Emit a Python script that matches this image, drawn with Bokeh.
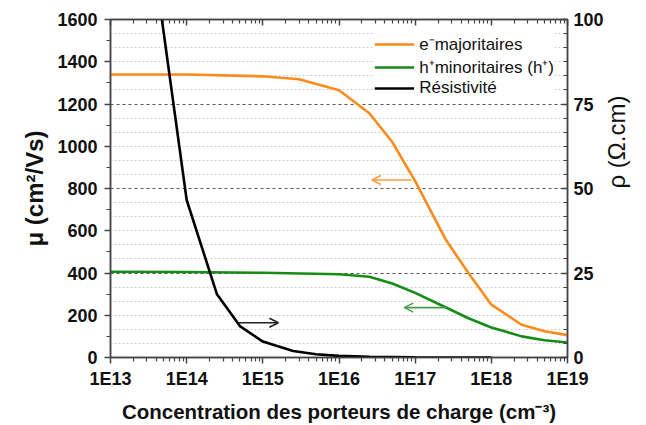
import math
from bokeh.plotting import figure
from bokeh.models import (Range1d, LinearAxis, LogAxis, FixedTicker, SingleIntervalTicker,
                          Arrow, OpenHead, Legend, LegendItem, CustomJSTickFormatter)
from bokeh.embed import file_html
from bokeh.resources import INLINE

# ---- data ----
conc_e = [1e13, 1e14, 1e15, 3e15, 1e16, 2.5e16, 5e16, 1e17, 2.5e17, 5e17, 1e18, 2.5e18, 5e18, 1e19]
mu_e = [1340, 1340, 1331, 1317, 1265, 1156, 1020, 835, 560, 400, 250, 155, 124, 106]

conc_h = [1e13, 1e14, 1e15, 1e16, 2.5e16, 5e16, 1e17, 2.5e17, 5e17, 1e18, 2.5e18, 5e18, 1e19]
mu_h = [406, 405, 401, 394, 382, 350, 306, 238, 186, 142, 100, 82, 71]

conc_r = [4e13, 5e13, 1e14, 2.5e14, 5e14, 1e15, 2.5e15, 5e15, 1e16, 2.5e16, 1e17, 1e18]
rho = [112, 96, 46.6, 18.7, 9.3, 4.7, 1.9, 0.95, 0.48, 0.2, 0.06, 0.01]

x_ticks = [1e13, 1e14, 1e15, 1e16, 1e17, 1e18, 1e19]
x_labels = ["1E13", "1E14", "1E15", "1E16", "1E17", "1E18", "1E19"]

labels = ["e\u207bmajoritaires", "h\u207aminoritaires (h\u207a)", "R\u00e9sistivit\u00e9"]
right_title = "\u03c1 (\u03a9.cm)"

# arrows: (x_start, x_end, y)
arrow_e = (8.9e16, 2.7e16, 840)
arrow_h = (2.6e17, 7.2e16, 236)
arrow_r = (4.8e14, 1.6e15, 10.3)

ORANGE = "#ff8a1c"
GREEN = "#168c16"
FONT = "Liberation Sans"
AX = "#444444"

p = figure(width=646, height=425, x_axis_type="log",
           x_range=Range1d(1e13, 1e19), y_range=Range1d(0, 1600),
           output_backend="svg", toolbar_location=None,
           min_border_left=110, min_border_right=72, min_border_top=19, min_border_bottom=67)
p.extra_y_ranges = {"rho": Range1d(0, 100)}
p.outline_line_color = AX
p.outline_line_width = 1.5
p.background_fill_color = "white"

minor_x = [k * 10 ** d for d in range(13, 19) for k in range(2, 10)]
xt = FixedTicker(ticks=x_ticks, minor_ticks=minor_x)

# bottom axis
xa = p.xaxis[0]
xa.ticker = xt
xa.major_label_overrides = {t: l for t, l in zip(x_ticks, x_labels)}
xa.axis_label = "Concentration des porteurs de charge (cm\u207b\u00b3)"

# left axis
ya = p.yaxis[0]
ya.ticker = SingleIntervalTicker(interval=200, num_minor_ticks=2)
ya.axis_label = "\u03bc (cm\u00b2/Vs)"

for ax in (xa, ya):
    ax.axis_line_color = AX
    ax.axis_line_width = 1.5
    ax.major_tick_line_color = AX
    ax.minor_tick_line_color = AX
    ax.major_tick_line_width = 1.5
    ax.minor_tick_line_width = 1.2
    ax.major_tick_in = 0
    ax.major_tick_out = 6
    ax.minor_tick_in = 0
    ax.minor_tick_out = 4
    ax.major_label_text_font = FONT
    ax.major_label_text_font_style = "bold"
    ax.major_label_text_font_size = "18px"
    ax.major_label_text_color = "#111111"
    ax.axis_label_text_font = FONT
    ax.axis_label_text_font_style = "bold"
    ax.axis_label_text_color = "#111111"

xa.major_label_standoff = 5
xa.axis_label_text_font_size = "20.5px"
xa.axis_label_standoff = 8
ya.major_label_standoff = 7
ya.axis_label_text_font_size = "24px"
ya.axis_label_standoff = 6

# top axis (ticks only)
top = LogAxis(ticker=xt, formatter=CustomJSTickFormatter(code="return ''"),
              axis_line_color=AX, axis_line_width=1.5,
              major_tick_line_color=AX, minor_tick_line_color=AX,
              major_tick_line_width=1.5, minor_tick_line_width=1.2,
              major_tick_in=6, major_tick_out=0, minor_tick_in=4, minor_tick_out=0,
              major_label_text_font_size="1px", major_label_standoff=0)
p.add_layout(top, "above")

# right axis (title reads bottom to top)
ra = LinearAxis(y_range_name="rho", ticker=SingleIntervalTicker(interval=25, num_minor_ticks=6),
                axis_label=right_title,
                axis_line_color=AX, axis_line_width=1.5,
                major_tick_line_color=AX, minor_tick_line_color=AX,
                major_tick_line_width=1.5, minor_tick_line_width=1.2,
                major_tick_in=6, major_tick_out=0, minor_tick_in=4, minor_tick_out=0,
                major_label_text_font=FONT, major_label_text_font_style="bold",
                major_label_text_font_size="18px", major_label_text_color="#111111",
                major_label_standoff=6,
                axis_label_text_font=FONT, axis_label_text_font_style="normal",
                axis_label_text_font_size="24px", axis_label_text_color="#111111",
                axis_label_standoff=10, axis_label_orientation=math.pi / 2)
p.add_layout(ra, "right")

# grid
p.xgrid.grid_line_color = None
g = p.ygrid[0]
g.ticker = FixedTicker(ticks=[400, 800, 1200],
                       minor_ticks=[i * 1600 / 24 for i in range(1, 24) if i % 6])
g.grid_line_color = "#555555"
g.grid_line_dash = "3 3"
g.grid_line_width = 1
g.minor_grid_line_color = "#cfcfcf"
g.minor_grid_line_dash = "2 2"
g.minor_grid_line_width = 1

# curves
r_e = p.line(conc_e, mu_e, line_color=ORANGE, line_width=2.6)
r_h = p.line(conc_h, mu_h, line_color=GREEN, line_width=2.6)
r_r = p.line(conc_r, rho, line_color="black", line_width=2.6, y_range_name="rho")

# arrows
p.add_layout(Arrow(x_start=arrow_e[0], x_end=arrow_e[1], y_start=arrow_e[2], y_end=arrow_e[2],
                   line_color="#ff9a45", line_width=1.6,
                   end=OpenHead(size=9, line_color="#ff9a45", line_width=1.6)))
p.add_layout(Arrow(x_start=arrow_h[0], x_end=arrow_h[1], y_start=arrow_h[2], y_end=arrow_h[2],
                   line_color="#4c9a4c", line_width=1.6,
                   end=OpenHead(size=9, line_color="#4c9a4c", line_width=1.6)))
p.add_layout(Arrow(x_start=arrow_r[0], x_end=arrow_r[1], y_start=arrow_r[2], y_end=arrow_r[2],
                   y_range_name="rho", line_color="#222222", line_width=1.6,
                   end=OpenHead(size=9, line_color="#222222", line_width=1.6)))

legend = Legend(items=[LegendItem(label=labels[0], renderers=[r_e]),
                       LegendItem(label=labels[1], renderers=[r_h]),
                       LegendItem(label=labels[2], renderers=[r_r])],
                location="top_right", margin=13, padding=6, spacing=0,
                glyph_width=40, glyph_height=18, label_height=18, label_standoff=5,
                label_text_font=FONT, label_text_font_size="17px", label_text_color="#111111",
                border_line_color=None, background_fill_color="white", background_fill_alpha=1)
p.add_layout(legend, "center")

open("out.html", "w").write(file_html(p, INLINE))
